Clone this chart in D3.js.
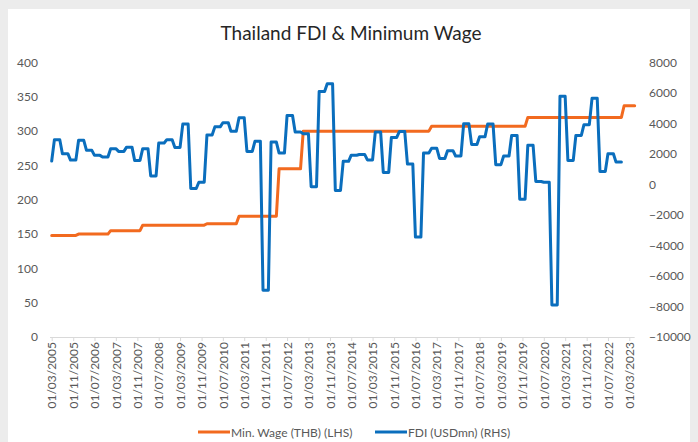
<!DOCTYPE html>
<html>
<head>
<meta charset="utf-8">
<script src="https://cdn.jsdelivr.net/npm/d3@7"></script>
<style>
  html, body { margin: 0; padding: 0; background: #ececec; }
  svg { display: block; }
  text { font-family: Lato, "Open Sans", "Liberation Sans", sans-serif; }
</style>
</head>
<body>
<svg id="chart" width="698" height="442"></svg>
<script>
// ---------------- DATA ----------------
const title = "Thailand FDI & Minimum Wage";
const seriesNames = ["Min. Wage (THB) (LHS)", "FDI (USDmn) (RHS)"];

// x-axis tick labels (every 8 months)
const xTickLabels = [
  "01/03/2005","01/11/2005","01/07/2006","01/03/2007","01/11/2007","01/07/2008",
  "01/03/2009","01/11/2009","01/07/2010","01/03/2011","01/11/2011","01/07/2012",
  "01/03/2013","01/11/2013","01/07/2014","01/03/2015","01/11/2015","01/07/2016",
  "01/03/2017","01/11/2017","01/07/2018","01/03/2019","01/11/2019","01/07/2020",
  "01/03/2021","01/11/2021","01/07/2022","01/03/2023"
];
const leftTicks  = [0, 50, 100, 150, 200, 250, 300, 350, 400];
const rightTicks = [-10000, -8000, -6000, -4000, -2000, 0, 2000, 4000, 6000, 8000];

// Minimum wage (THB/day): date each level takes effect, and the level
const wageFrom   = ["2005-03","2006-01","2007-01","2008-01","2010-01","2011-01","2012-04","2013-01","2017-01","2020-01","2023-01"];
const wageLevel  = [148, 150, 155, 163, 165, 176, 245, 300, 307, 320, 337];
const wageLast   = "2023-05";

// FDI (USD mn), quarterly, Q1 2005 .. Q4 2022 (shown monthly, first month 2005-03)
const fdiQuarterStart = "2005-01";
const fdiQuarterly = [
  1540, 2940, 2020, 1600,   // 2005
  2900, 2240, 1910, 1800,   // 2006
  2350, 2170, 2450, 1580,   // 2007
  2350,  560, 2720, 2940,   // 2008
  2430, 3960, -260,  150,   // 2009
  3250, 3780, 4050, 3490,   // 2010
  4380, 2170, 2830, -6930,  // 2011
  2780, 2060, 4530, 3440,   // 2012
  3330, -140, 6100, 6600,   // 2013
  -390, 1520, 1920, 1970,   // 2014
  1610, 3440,  790, 3090,   // 2015
  3480, 1340, -3450, 2060,  // 2016
  2370, 1710, 2220, 1870,   // 2017
  3990, 2630, 3130, 3970,   // 2018
  1300, 1870, 3220, -960,   // 2019
  2570,  200,  150, -7900,  // 2020
  5790, 1580, 3220, 3920,   // 2021
  5660,  860, 2020, 1470    // 2022
];
const fdiFirstMonth = "2005-03";

// ---------------- BUILD MONTHLY TABLES ----------------
const parseMonth = d3.timeParse("%Y-%m");
const parseTick = d3.timeParse("%d/%m/%Y");

const wageData = [];
{
  const last = parseMonth(wageLast);
  let d = parseMonth(wageFrom[0]);
  while (d <= last) {
    let lvl = wageLevel[0];
    wageFrom.forEach((f, i) => { if (parseMonth(f) <= d) lvl = wageLevel[i]; });
    wageData.push({ date: d, value: lvl });
    d = d3.timeMonth.offset(d, 1);
  }
}
const fdiData = [];
{
  const q0 = parseMonth(fdiQuarterStart);
  const first = parseMonth(fdiFirstMonth);
  fdiQuarterly.forEach((v, qi) => {
    for (let k = 0; k < 3; k++) {
      const d = d3.timeMonth.offset(q0, qi * 3 + k);
      if (d >= first) fdiData.push({ date: d, value: v });
    }
  });
}

// ---------------- DRAW ----------------
const W = 698, H = 442;
const svg = d3.select("#chart");

svg.append("rect").attr("x", 0).attr("y", 0).attr("width", W).attr("height", H).attr("fill", "#ececec");
svg.append("rect").attr("x", 8).attr("y", 9).attr("width", 682).attr("height", H - 9).attr("fill", "#ffffff");

const tickDates = xTickLabels.map(parseTick);
const x = d3.scaleTime()
  .domain([tickDates[0], tickDates[tickDates.length - 1]])
  .range([51.7, 629.3]);
const yL = d3.scaleLinear().domain([0, 400]).range([337, 62.5]);
const yR = d3.scaleLinear().domain([-10000, 8000]).range([337, 62.5]);

const labelColor = "#595959";

// Title
svg.append("text")
  .attr("x", 351).attr("y", 39.5)
  .attr("text-anchor", "middle")
  .attr("font-size", 19)
  .attr("fill", "#262626")
  .text(title);

// Left axis labels
const gL = svg.append("g").attr("transform", "translate(38,0)")
  .call(d3.axisLeft(yL).tickValues(leftTicks).tickSize(0).tickPadding(0).tickFormat(d3.format("d")));
gL.select(".domain").remove();
gL.selectAll("text").attr("font-size", 12).attr("fill", labelColor).style("font-family", "Lato, sans-serif");

// Right axis labels
const gR = svg.append("g").attr("transform", "translate(649,0)")
  .call(d3.axisRight(yR).tickValues(rightTicks).tickSize(0).tickPadding(0).tickFormat(d3.format("d")));
gR.select(".domain").remove();
gR.selectAll("text").attr("font-size", 12).attr("fill", labelColor).style("font-family", "Lato, sans-serif");

// X axis
const gX = svg.append("g").attr("transform", "translate(0,337)")
  .call(d3.axisBottom(x).tickValues(tickDates).tickSize(4).tickSizeOuter(0)
    .tickFormat(d3.timeFormat("%d/%m/%Y")));
gX.select(".domain").attr("d", `M${x(tickDates[0]) - 1.7},0.5H${x(d3.timeMonth.offset(tickDates[tickDates.length-1], 2))}`)
  .attr("stroke", "#d9d9d9").attr("stroke-width", 1);
gX.selectAll(".tick line").attr("stroke", "#d9d9d9");
gX.selectAll("text")
  .attr("font-size", 12)
  .attr("fill", labelColor)
  .style("font-family", "Lato, sans-serif")
  .attr("text-anchor", "end")
  .attr("transform", "rotate(-90)")
  .attr("x", -5).attr("y", 0).attr("dy", "0.35em");

// Lines
const wageColor = "#F26A1F";
const fdiColor = "#0A6EBD";

const wageLine = d3.line().x(d => x(d.date)).y(d => yL(d.value));
const fdiLine = d3.line().x(d => x(d.date)).y(d => yR(d.value));

svg.append("path").datum(wageData)
  .attr("d", wageLine).attr("fill", "none")
  .attr("stroke", wageColor).attr("stroke-width", 3)
  .attr("stroke-linejoin", "round").attr("stroke-linecap", "round");

svg.append("path").datum(fdiData)
  .attr("d", fdiLine).attr("fill", "none")
  .attr("stroke", fdiColor).attr("stroke-width", 3)
  .attr("stroke-linejoin", "round").attr("stroke-linecap", "round");

// Legend
const legendItems = [
  { name: seriesNames[0], color: wageColor, x0: 198 },
  { name: seriesNames[1], color: fdiColor, x0: 375 }
];
const lg = svg.append("g");
legendItems.forEach(it => {
  lg.append("line").attr("x1", it.x0).attr("x2", it.x0 + 32)
    .attr("y1", 432).attr("y2", 432)
    .attr("stroke", it.color).attr("stroke-width", 3);
  lg.append("text").attr("x", it.x0 + 33).attr("y", 436.5)
    .attr("font-size", 12).attr("fill", labelColor)
    .text(it.name);
});
</script>
</body>
</html>
